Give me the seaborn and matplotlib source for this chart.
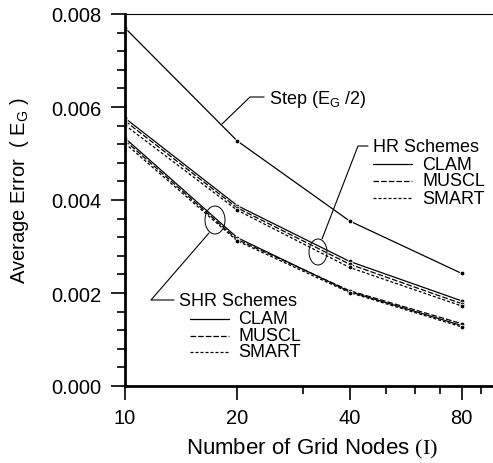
import matplotlib
matplotlib.use("Agg")
import matplotlib.pyplot as plt
import pandas as pd
import seaborn as sns
from matplotlib.patches import Ellipse
from matplotlib.lines import Line2D
from matplotlib.ticker import FixedLocator, FixedFormatter, NullFormatter, MultipleLocator

# Average error E_G versus number of grid nodes
grid_nodes = [10, 20, 40, 80]
step_half = [0.00770, 0.00527, 0.00355, 0.00242]
hr_clam = [0.00576, 0.00388, 0.00268, 0.00183]
hr_muscl = [0.00570, 0.00383, 0.00262, 0.00177]
hr_smart = [0.00561, 0.00378, 0.00255, 0.00172]
shr_clam = [0.00533, 0.00319, 0.00203, 0.00130]
shr_muscl = [0.00528, 0.00315, 0.00205, 0.00134]
shr_smart = [0.00522, 0.00312, 0.00201, 0.00127]

x_ticks = [10, 20, 40, 80]
x_tick_labels = ["10", "20", "40", "80"]
y_tick_labels = ["0.000", "0.002", "0.004", "0.006", "0.008"]
scheme_names = ["CLAM", "MUSCL", "SMART"]

series = {
    "Step": step_half,
    "HR CLAM": hr_clam, "HR MUSCL": hr_muscl, "HR SMART": hr_smart,
    "SHR CLAM": shr_clam, "SHR MUSCL": shr_muscl, "SHR SMART": shr_smart,
}
df = pd.DataFrame(
    [(name, n, v) for name, vals in series.items() for n, v in zip(grid_nodes, vals)],
    columns=["series", "nodes", "error"],
)

DASH = {"CLAM": "", "MUSCL": (4.5, 1.6), "SMART": (2.4, 1.6)}
dashes = {"Step": ""}
for name in series:
    if name != "Step":
        dashes[name] = DASH[name.split()[1]]
markers = {name: "o" for name in series}

sns.set_style("ticks")
plt.rcParams["font.family"] = ["Liberation Sans", "DejaVu Sans"]
plt.rcParams["mathtext.fontset"] = "custom"
plt.rcParams["mathtext.rm"] = "Liberation Sans"
plt.rcParams["mathtext.sf"] = "Liberation Serif"
plt.rcParams["mathtext.default"] = "rm"
for key in ("text.color", "axes.labelcolor", "xtick.color", "ytick.color",
            "xtick.labelcolor", "ytick.labelcolor"):
    plt.rcParams[key] = "black"

W, H = 493, 464
fig = plt.figure(figsize=(W / 100, H / 100), dpi=100)
ax = fig.add_axes([125 / W, 1 - 387 / H, (493 - 125) / W, (387 - 15) / H])

sns.lineplot(data=df, x="nodes", y="error", style="series", dashes=dashes,
             markers=markers, color="black", linewidth=0.9, markersize=3.4,
             markeredgewidth=0.6, legend=False, ax=ax, errorbar=None)

ax.set_xscale("log")
ax.set_xlim(10, 97)
ax.set_ylim(0, 0.008)
ax.xaxis.set_major_locator(FixedLocator(x_ticks))
ax.xaxis.set_major_formatter(FixedFormatter(x_tick_labels))
ax.xaxis.set_minor_locator(FixedLocator([30, 50, 60, 70, 90]))
ax.xaxis.set_minor_formatter(NullFormatter())
ax.set_yticks([0, 0.002, 0.004, 0.006, 0.008])
ax.set_yticklabels(y_tick_labels)
ax.yaxis.set_minor_locator(MultipleLocator(0.0004))

ax.tick_params(which="major", length=10, width=1.2, labelsize=14.5, color="black")
ax.tick_params(which="minor", length=6, width=1.2, color="black")
ax.tick_params(axis="y", which="major", pad=7)
ax.tick_params(axis="x", which="major", pad=6)

for s in ("left", "bottom"):
    ax.spines[s].set_linewidth(2.0)
    ax.spines[s].set_color("black")
ax.spines["right"].set_visible(False)
ax.spines["top"].set_visible(True)
ax.spines["top"].set_linestyle((0, (1, 1)))
ax.spines["top"].set_linewidth(0.8)
ax.spines["top"].set_color("black")

ax.set_xlabel(r"Number of Grid Nodes $\mathsf{(I)}$", fontsize=16)
ax.set_ylabel(r"Average Error  ( E$_G$ )", fontsize=14.5)
ax.xaxis.set_label_coords((312 - 125) / 368, -(437 - 387) / 372)
ax.yaxis.set_label_coords(-(125 - 31) / 368, (387 - 191) / 372)


def fp(x, y):
    return x / W, 1 - y / H


def seg(points, lw=0.8):
    xs, ys = zip(*[fp(x, y) for x, y in points])
    fig.add_artist(Line2D(xs, ys, transform=fig.transFigure, color="black", lw=lw))


def text(x, y, s, size=13):
    fx, fy = fp(x, y)
    fig.text(fx, fy, s, fontsize=size, ha="left", va="center")


def ellipse(cx, cy, w, h):
    fx, fy = fp(cx, cy)
    fig.add_artist(Ellipse((fx, fy), w / W, h / H, transform=fig.transFigure,
                           fill=False, edgecolor="black", lw=0.7))


# Step annotation
seg([(222, 125), (250, 98), (264, 98)])
text(269, 100, r"Step (E$_G$ /2)")

# HR schemes key
ellipse(318, 253, 18, 26)
seg([(322, 240), (358, 147), (368, 147)])
text(373, 148, "HR Schemes")
for i, name in enumerate(scheme_names):
    y = 165 + i * 17
    dash = DASH[name]
    ls = "-" if dash == "" else (0, dash)
    xs, ys = zip(fp(373, y), fp(412, y))
    fig.add_artist(Line2D(xs, ys, transform=fig.transFigure, color="black",
                          lw=0.9, linestyle=ls))
    text(422, y, name)

# SHR schemes key
ellipse(215, 221, 20, 28)
seg([(209, 234), (151, 301), (174, 301)])
text(179, 302, "SHR Schemes")
for i, name in enumerate(scheme_names):
    y = 320 + i * 16.5
    dash = DASH[name]
    ls = "-" if dash == "" else (0, dash)
    xs, ys = zip(fp(190, y), fp(229, y))
    fig.add_artist(Line2D(xs, ys, transform=fig.transFigure, color="black",
                          lw=0.9, linestyle=ls))
    text(238, y, name)

fig.savefig("out.png", dpi=100)
